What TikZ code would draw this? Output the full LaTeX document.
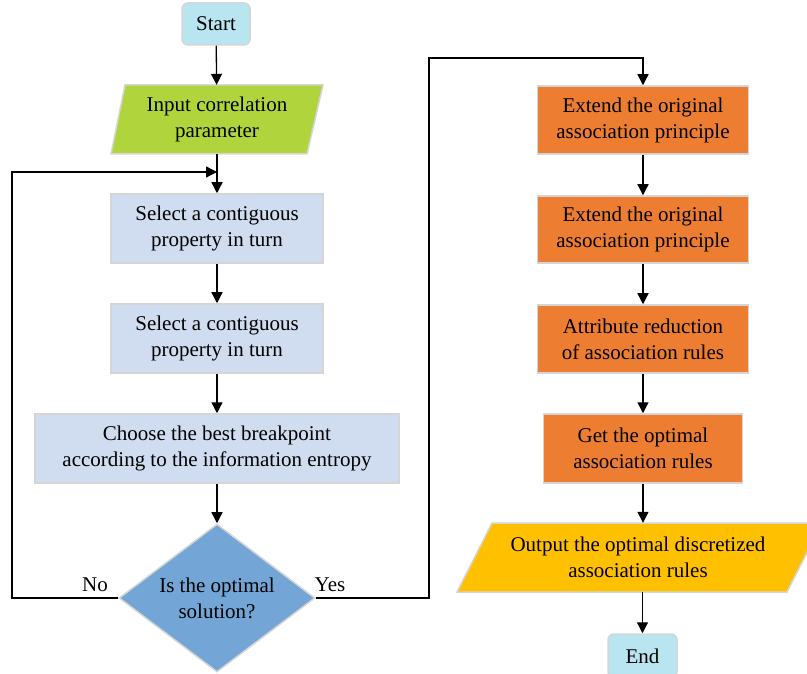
\documentclass[tikz,border=0pt]{standalone}
\usepackage{fontspec}
\setmainfont{Liberation Serif}
\usetikzlibrary{arrows.meta,shapes.geometric}
\definecolor{termc}{HTML}{B8E5F0}
\definecolor{greenc}{HTML}{B0D53C}
\definecolor{lbluec}{HTML}{D0DCF0}
\definecolor{diamc}{HTML}{73A6D6}
\definecolor{orangec}{HTML}{ED7D31}
\definecolor{yellowc}{HTML}{FFC000}
\definecolor{edgec}{HTML}{D5D5D5}
\tikzset{
  txt/.style={font=\fontsize{21}{26}\selectfont, align=center, inner sep=0pt, text=black},
  boxbase/.style={txt, draw=edgec, line width=1.5pt, rectangle},
  term/.style={boxbase, fill=termc, rounded corners=6pt},
  lbox/.style={boxbase, fill=lbluec},
  obox/.style={boxbase, fill=orangec},
  ptext/.style={txt, rectangle},
  pshape/.style={draw=edgec, line width=1.5pt},
  dec/.style={txt, shape=diamond, draw=edgec, line width=1.5pt, fill=diamc, minimum width=196pt, minimum height=148pt, aspect=1.32},
  conn/.style={line width=1.3pt, black, -{Triangle[width=11pt,length=11pt]}},
  line/.style={line width=1.3pt, black},
  lbl/.style={font=\fontsize{21}{24}\selectfont, text=black, inner sep=0pt}
}
\begin{document}
\begin{tikzpicture}[x=1pt,y=-1pt]
\useasboundingbox (0,0) rectangle (807,674);
\clip (0,0) rectangle (807,674);
% start
\node[term, minimum width=68pt, minimum height=42pt] (start) at (216,24) {Start};
% input parallelogram
\filldraw[pshape, fill=greenc] (111,154) -- (125,85) -- (323,85) -- (307,154) -- cycle;
\node[ptext, minimum width=180pt, minimum height=69pt] (inp) at (217,119.5) {Input correlation\\parameter};
% left column boxes
\node[lbox, minimum width=212pt, minimum height=69pt] (b1) at (217,228.5) {Select a contiguous\\property in turn};
\node[lbox, minimum width=212pt, minimum height=69pt] (b2) at (217,338.5) {Select a contiguous\\property in turn};
\node[lbox, minimum width=364pt, minimum height=69pt] (b3) at (217,448.5) {Choose the best breakpoint\\according to the information entropy};
\node[dec] (d) at (217,598) {Is the optimal\\solution?};
% right column
\node[obox, minimum width=211pt, minimum height=68pt] (o1) at (643,120) {Extend the original\\association principle};
\node[obox, minimum width=211pt, minimum height=67pt] (o2) at (643,229.5) {Extend the original\\association principle};
\node[obox, minimum width=211pt, minimum height=68pt] (o3) at (643,339) {Attribute reduction\\of association rules};
\node[obox, minimum width=199pt, minimum height=69pt] (o4) at (643,448.5) {Get the optimal\\association rules};
\filldraw[pshape, fill=yellowc] (457,592) -- (492,523) -- (822,523) -- (787,592) -- cycle;
\node[ptext, minimum width=300pt, minimum height=69pt] (out) at (638,557.5) {Output the optimal discretized\\association rules};
\node[term, minimum width=69pt, minimum height=44pt] (end) at (642.5,656) {End};
% connectors
\draw[conn] (start) -- (inp);
\draw[conn] (inp) -- (b1);
\draw[conn] (b1) -- (b2);
\draw[conn] (b2) -- (b3);
\draw[conn] (b3) -- (d);
\coordinate (fb1) at (12,598);
\coordinate (fb2) at (12,172);
\coordinate (fb3) at (217,172);
\draw[conn] (d.west) -- (fb1) -- (fb2) -- (fb3);
\coordinate (y1) at (429,598);
\coordinate (y2) at (429,58);
\coordinate (y3) at (643,58);
\draw[conn] (d.east) -- (y1) -- (y2) -- (y3) -- (o1.north);
\draw[conn] (o1) -- (o2);
\draw[conn] (o2) -- (o3);
\draw[conn] (o3) -- (o4);
\draw[conn] (o4.south) -- (o4.south |- out.north);
\draw[conn] (out.south -| end.north) -- (end.north);
\node[lbl] (no) at (95,585) {No};
\node[lbl] (yes) at (330,585) {Yes};
\end{tikzpicture}
\end{document}
